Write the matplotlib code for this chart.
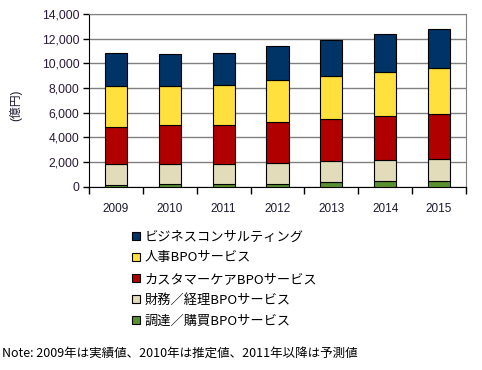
import numpy as np
import matplotlib
matplotlib.use("Agg")
import matplotlib.pyplot as plt
from matplotlib.patches import Patch
from matplotlib.ticker import FuncFormatter, FixedLocator

plt.rcParams['font.family'] = ['Liberation Sans', 'Noto Sans CJK JP', 'DejaVu Sans']

# Data (億円)
years = ["2009", "2010", "2011", "2012", "2013", "2014", "2015"]
procurement = [130, 220, 220, 250, 350, 430, 430]          # 調達／購買BPOサービス
finance = [1670, 1590, 1660, 1690, 1770, 1770, 1850]       # 財務／経理BPOサービス
customer_care = [3065, 3170, 3145, 3335, 3390, 3550, 3630] # カスタマーケアBPOサービス
hr = [3275, 3170, 3200, 3390, 3440, 3520, 3680]            # 人事BPOサービス
consulting = [2695, 2610, 2615, 2740, 2930, 3090, 3170]    # ビジネスコンサルティング

series = [
    ("調達／購買BPOサービス", procurement, "#5A9130"),
    ("財務／経理BPOサービス", finance, "#E3DCBA"),
    ("カスタマーケアBPOサービス", customer_care, "#B00000"),
    ("人事BPOサービス", hr, "#FFE03C"),
    ("ビジネスコンサルティング", consulting, "#003366"),
]

fig = plt.figure(figsize=(4.82, 3.70), dpi=100)
ax = fig.add_axes([89 / 482, 1 - 186.7 / 370, 377 / 482, 172.7 / 370])

x = np.arange(len(years))
bottom = np.zeros(len(years))
for name, vals, color in series:
    ax.bar(x, vals, width=0.41, bottom=bottom, color=color,
           edgecolor="black", linewidth=0.8, zorder=3)
    bottom += np.array(vals)

ax.set_xlim(-0.5, len(years) - 0.5)
ax.set_ylim(0, 14000)
ax.set_yticks(np.arange(0, 14001, 2000))
ax.yaxis.set_major_formatter(FuncFormatter(lambda v, p: f"{int(v):,}"))
ax.grid(axis="y", color="#808080", linewidth=1, zorder=0)

# category labels centred, ticks between categories
ax.set_xticks(x)
ax.set_xticklabels(years)
ax.tick_params(axis="x", which="major", length=0, pad=12, labelsize=8.5,
               labelcolor="#1a1a2e")
ax.xaxis.set_minor_locator(FixedLocator(np.arange(-0.5, len(years), 1.0)))
ax.tick_params(axis="x", which="minor", length=5, width=1, color="black",
               direction="out")
ax.tick_params(axis="y", length=4, width=1, color="black", labelsize=8.7,
               labelcolor="#2a1a3a", pad=3)

for s in ["top", "right"]:
    ax.spines[s].set_color("#808080")
for s in ["left", "bottom"]:
    ax.spines[s].set_color("black")

fig.text(16 / 482, 1 - 105 / 370, "(億円)", rotation=90, ha="center",
         va="center", fontsize=8.5, color="#1a1a2e")

handles = [Patch(facecolor=c, edgecolor="black", linewidth=0.8, label=n)
           for n, v, c in series][::-1]
fig.legend(handles=handles, loc="upper left",
           bbox_to_anchor=(127 / 482, 1 - 225 / 370), frameon=False,
           handlelength=0.55, handleheight=0.55, handletextpad=0.35,
           labelspacing=0.62, borderaxespad=0,
           prop={"family": ["Noto Sans CJK JP"], "size": 9.5})

fig.text(2 / 482, 1 - 353 / 370, "Note: 2009年は実績値、2010年は推定値、2011年以降は予測値",
         ha="left", va="center", fontsize=9, family=["Noto Sans CJK JP"])

fig.savefig("out.png", dpi=100)
